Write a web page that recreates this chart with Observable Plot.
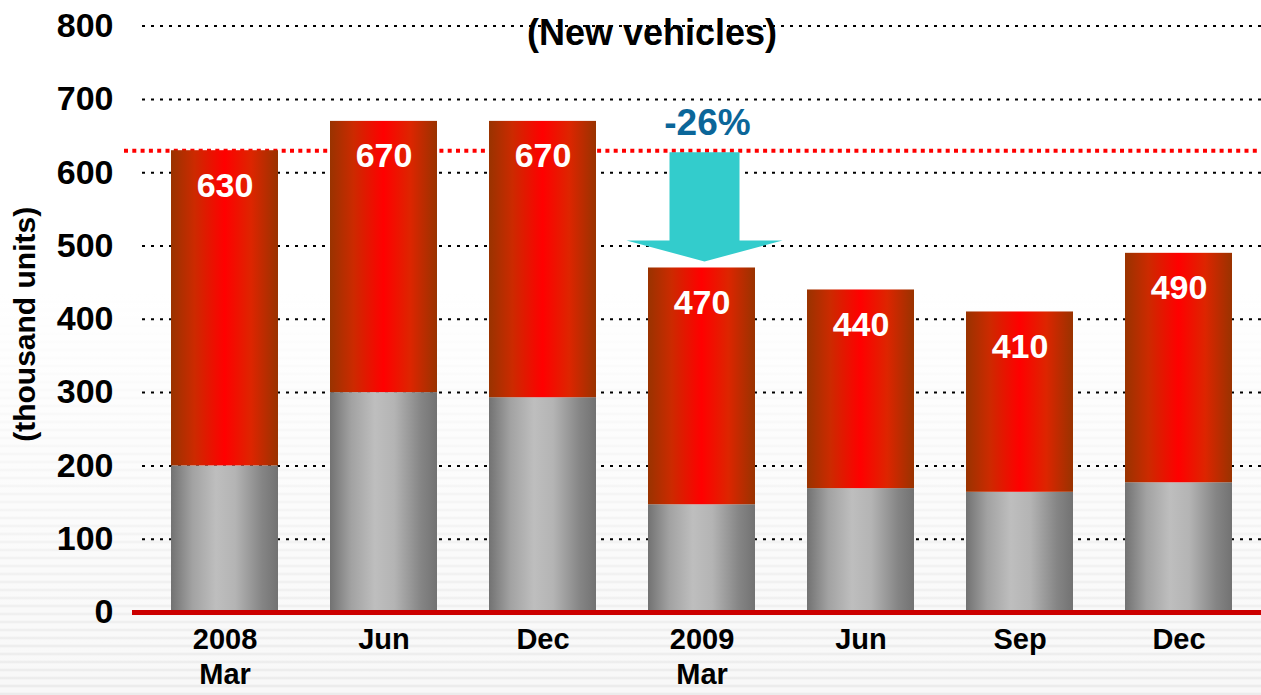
<!DOCTYPE html>
<html><head><meta charset="utf-8">
<script src="https://cdn.jsdelivr.net/npm/d3@7"></script>
<script src="https://cdn.jsdelivr.net/npm/@observablehq/plot@0.6"></script>
<style>
html,body{margin:0;padding:0;}
body{width:1261px;height:695px;overflow:hidden;
background: linear-gradient(to bottom, #fff 0px, #fff 290px, rgba(255,255,255,0) 695px),
 repeating-linear-gradient(to bottom, #f8f8f8 0px, #f8f8f8 4px, #e8e8e8 6px, #f8f8f8 8px);}
#chart svg{display:block;}
</style></head><body><div id="chart"></div>
<script>
const periods = ["2008 Mar","2008 Jun","2008 Dec","2009 Mar","2009 Jun","2009 Sep","2009 Dec"];
const tickLabels = ["2008\nMar","Jun","Dec","2009\nMar","Jun","Sep","Dec"];
const totals = [630,670,670,470,440,410,490];
const lowerValues = [200,300,293,147,169,164,177];
const yTicks = [0,100,200,300,400,500,600,700,800];
const referenceLevel = 630;
const changeLabel = "-26%";
const title = "(New vehicles)";
const yLabel = "(thousand units)";

const rows = periods.map((p,i)=>({period:p, lower:lowerValues[i], total:totals[i]}));
const FONT = "'Liberation Sans', Arial, Helvetica, sans-serif";

const plot = Plot.plot({
  width:1261, height:695, marginLeft:142, marginRight:0, marginTop:25.6, marginBottom:83,
  style:{background:"transparent", fontFamily:FONT, color:"#000", overflow:"visible"},
  x:{domain:periods, paddingInner:0.33, paddingOuter:0.165, label:null},
  y:{domain:[0,800], label:null},
  marks:[
    Plot.ruleY(yTicks.filter(d=>d>0), {stroke:"#000", strokeWidth:2, strokeDasharray:"3,6"}),
    Plot.ruleY([referenceLevel], {stroke:"#ff0000", strokeWidth:4, strokeDasharray:"4,4.3", insetLeft:-18}),
    Plot.barY(rows, {x:"period", y1:0, y2:"lower", fill:"url(#gradGray)"}),
    Plot.barY(rows, {x:"period", y1:"lower", y2:"total", fill:"url(#gradRed)"}),
    Plot.ruleY([0], {stroke:"#cc0000", strokeWidth:5, insetLeft:-10}),
    Plot.text(rows, {x:"period", y:"total", text:d=>String(d.total), fill:"white", fontSize:34, fontWeight:"bold", dy:35}),
    Plot.axisY({ticks:yTicks, tickSize:0, tickPadding:29, fontSize:34, fontWeight:"bold", label:null}),
    Plot.axisX({tickSize:0, tickPadding:12, fontSize:29, fontWeight:"bold", lineHeight:1.2, label:null,
      tickFormat:d=>tickLabels[periods.indexOf(d)]}),
    Plot.text([title], {frameAnchor:"top", dx:-50, dy:7, lineAnchor:"middle", fontSize:36, fontWeight:"bold", fill:"#000"}),
    Plot.text([yLabel], {frameAnchor:"left", textAnchor:"middle", dx:-117, dy:5, rotate:-90, fontSize:30, fontWeight:"bold", fill:"#000"})
  ]
});
document.getElementById("chart").appendChild(plot);

const svg = d3.select(plot);
const defs = svg.insert("defs", ":first-child");
const red = defs.append("linearGradient").attr("id","gradRed").attr("x1","0").attr("x2","1").attr("y1","0").attr("y2","0");
[[0,"#993300"],[0.22,"#cc2a00"],[0.5,"#ff0000"],[0.75,"#dd2500"],[1,"#993300"]]
  .forEach(([o,c])=>red.append("stop").attr("offset",o).attr("stop-color",c));
const gray = defs.append("linearGradient").attr("id","gradGray").attr("x1","0").attr("x2","1").attr("y1","0").attr("y2","0");
[[0,"#727272"],[0.2,"#a2a2a2"],[0.42,"#bebebe"],[0.6,"#b4b4b4"],[0.85,"#858585"],[1,"#727272"]]
  .forEach(([o,c])=>gray.append("stop").attr("offset",o).attr("stop-color",c));

const xs = plot.scale("x"), ys = plot.scale("y");
const arrowCx = xs.apply(periods[3]) + xs.bandwidth/2 + 3;
const arrowTop = ys.apply(referenceLevel) + 2;
const arrowTip = ys.apply(totals[3]) - 6;
const headBase = arrowTip - 21;
const sw = 35, hw = 78;
svg.append("path")
  .attr("d", `M${arrowCx-sw},${arrowTop}L${arrowCx+sw},${arrowTop}L${arrowCx+sw},${headBase}L${arrowCx+hw},${headBase}L${arrowCx},${arrowTip}L${arrowCx-hw},${headBase}L${arrowCx-sw},${headBase}Z`)
  .attr("fill","#33cccc");
svg.append("text").attr("x", arrowCx+3).attr("y", ys.apply(referenceLevel)-25)
  .attr("text-anchor","middle").attr("dominant-baseline","middle")
  .attr("font-family",FONT).attr("font-size",37).attr("font-weight","bold").attr("fill","#0b6699")
  .text(changeLabel);
</script></body></html>
